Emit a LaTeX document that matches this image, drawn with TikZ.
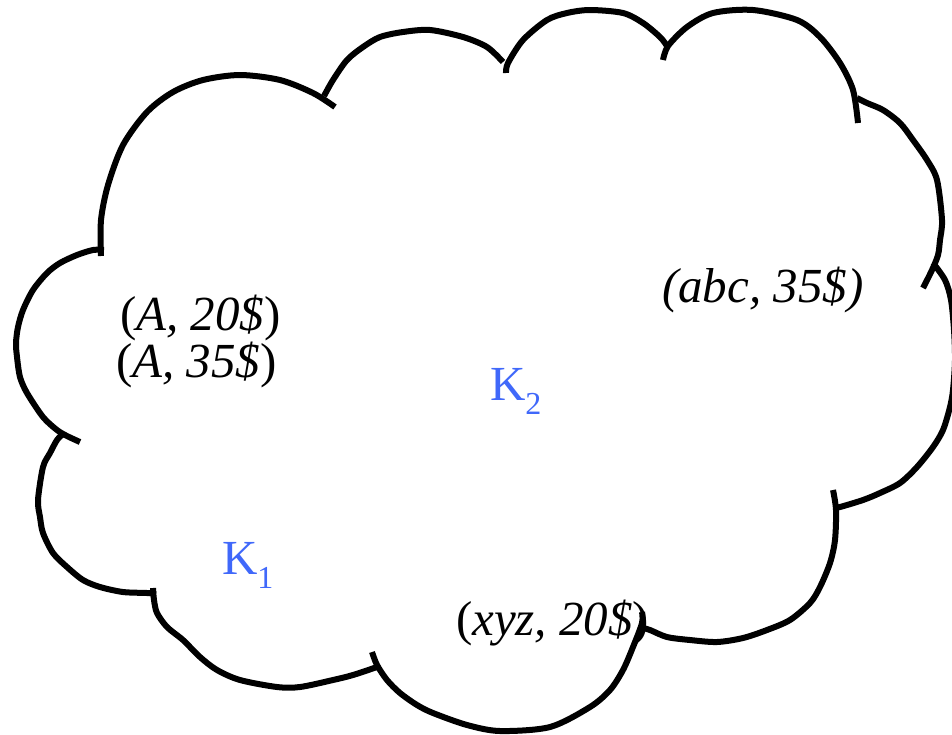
\documentclass[tikz,border=0pt]{standalone}
\usepackage{fontspec}
\setmainfont{Liberation Serif}

\definecolor{keyblue}{RGB}{64,104,250}

\begin{document}
\begin{tikzpicture}[
    x=0.5pt, y=-0.5pt,
    font=\fontsize{24.5}{27}\selectfont,
    rim/.style={draw=black, line width=3pt, line join=round},
    pair/.style={anchor=base west, inner sep=0pt, outer sep=0pt},
    key/.style={pair, text=keyblue},
]
\useasboundingbox (0,0) rectangle (952,734);

% --- Cloud outline, one bump at a time (clockwise from top-left) ---
\draw[rim] plot[smooth] coordinates {(101,256) (101,220) (108,185) (123,145) (147,112) (173,92) (203,80) (240,75) (280,80) (313,93) (335,107)};
\draw[rim] plot[smooth] coordinates {(324,96) (333,80) (347,60) (363,47) (380,37) (403,32) (430,30) (463,37) (487,47) (503,62)};
\draw[rim] plot[smooth] coordinates {(506,73) (508,63) (523,40) (547,20) (567,13) (590,10) (623,13) (643,23) (660,37) (667,46)};
\draw[rim] plot[smooth] coordinates {(663,60) (668,46) (687,27) (713,13) (753,10) (797,20) (820,37) (840,63) (853,90) (858,123)};
\draw[rim] plot[smooth] coordinates {(857,98) (867,103) (883,110) (900,123) (913,140) (927,160) (937,180) (942,220) (940,240) (938,255) (932,270) (923,288)};
\draw[rim] plot[smooth] coordinates {(933,263) (945,280) (951,300) (954,330) (955,360) (953,390) (950,407) (943,430) (933,447) (917,467) (900,483) (880,493) (863,500) (840,507) (836,507)};
\draw[rim] plot[smooth] coordinates {(833,490) (836,510) (835,540) (830,563) (820,587) (810,603) (790,620) (767,630) (743,638) (717,642) (690,640) (667,637) (650,630) (643,628)};
\draw[rim] plot[smooth] coordinates {(642,612) (642,623) (633,647) (623,670) (610,690) (590,707) (550,727) (500,731) (467,725) (433,713) (417,705) (400,693) (387,680) (377,665) (372,652)};
\draw[rim] plot[smooth] coordinates {(377,667) (353,675) (333,680) (300,687) (277,687) (240,680) (217,670) (200,657) (183,640) (167,627) (157,613) (154,600) (153,588)};
\draw[rim] plot[smooth] coordinates {(63,434) (57,440) (50,453) (43,467) (38,500) (40,517) (43,533) (53,553) (67,567) (83,580) (100,587) (123,592) (147,593) (156,594)};
\draw[rim] plot[smooth] coordinates {(104,250) (93,250) (77,255) (60,263) (47,273) (33,290) (23,310) (18,327) (16,343) (17,357) (20,377) (27,393) (43,417) (57,430) (67,436) (80,442)};

% --- Pairs inside the cloud ---
\node[pair] (pairA20)  at (120,330) {(\textit{A, 20\$})};
\node[pair] (pairA35)  at (116,377) {(\textit{A, 35\$})};
\node[pair] (pairabc)  at (662,302) {\textit{(abc, 35\$)}};
\node[pair] (pairxyz)  at (456,635) {(\textit{xyz, 20\$})};

% --- Keys ---
\node[key] (keyone) at (222,574) {K\raisebox{-7pt}{\fontsize{16}{16}\selectfont 1}};
\node[key] (keytwo) at (490,400) {K\raisebox{-7pt}{\fontsize{16}{16}\selectfont 2}};

\end{tikzpicture}
\end{document}
